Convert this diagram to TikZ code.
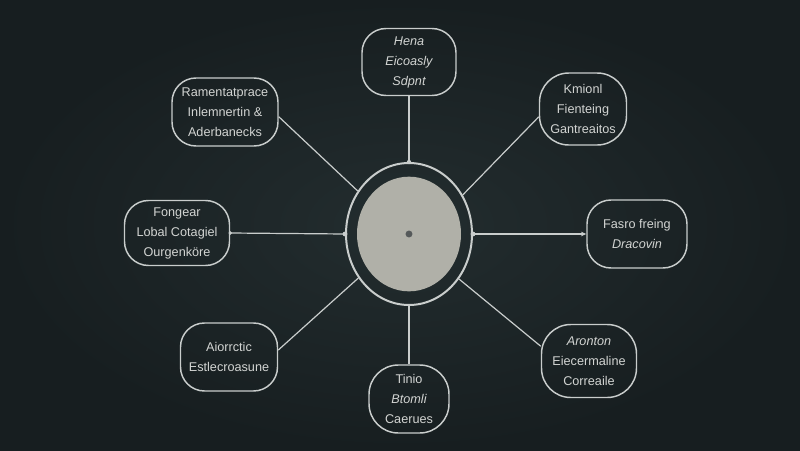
\documentclass[tikz,border=0pt]{standalone}
\usepackage{fontspec}
\setmainfont{Liberation Sans}
\usetikzlibrary{shapes.geometric,arrows.meta}
\definecolor{bgmid}{HTML}{232D2F}
\definecolor{bgedge}{HTML}{171E20}
\definecolor{chalk}{HTML}{C9CDCC}
\definecolor{chalktext}{HTML}{D2D4D2}
\definecolor{discfill}{HTML}{B0B0A8}
\definecolor{dotc}{HTML}{55595A}
\tikzset{
  bubble/.style={draw=chalk, line width=1.1pt, rounded corners=18pt, align=center,
    text=chalktext, inner sep=0pt, font=\fontsize{9.5}{15}\selectfont},
  link/.style={draw=chalk, line width=0.9pt},
  junction/.style={fill=chalk}
}
\begin{document}
\begin{tikzpicture}[x=0.75pt,y=-0.75pt]
\shade[inner color=bgmid, outer color=bgedge] (0,0) rectangle (800,450);
\useasboundingbox (0,0) rectangle (800,450);

% centre
\node[ellipse, draw=chalk, line width=1.5pt, minimum width=94.5pt, minimum height=106.5pt, inner sep=0pt] (ring) at (409,234) {};
\node[ellipse, fill=discfill, minimum width=78pt, minimum height=86pt, inner sep=0pt] (disc) at (409,234) {};
\fill[dotc] (disc.center) circle (2.6pt);

% boxes
\node[bubble, minimum width=70.5pt, minimum height=50.25pt] (top) at (409,62) {\itshape Hena\\\itshape Eicoasly\\\itshape Sdpnt};
\node[bubble, minimum width=79.5pt, minimum height=51pt] (tl) at (225,112) {Ramentatprace\\Inlemnertin \&\\Aderbanecks};
\node[bubble, minimum width=65.25pt, minimum height=54pt, rounded corners=22pt] (tr) at (583,109) {Kmionl\\Fienteing\\Gantreaitos};
\node[bubble, minimum width=78.75pt, minimum height=48.75pt] (l) at (177,233) {Fongear\\Lobal Cotagiel\\Ourgenköre};
\node[bubble, minimum width=75pt, minimum height=51pt] (r) at (637,234) {Fasro freing\\\itshape Dracovin};
\node[bubble, minimum width=72.75pt, minimum height=51pt] (bl) at (229,357) {Aiorrctic\\Estlecroasune};
\node[bubble, minimum width=71.25pt, minimum height=54.75pt, rounded corners=22pt] (br) at (589,361) {\itshape Aronton\\Eiecermaline\\Correaile};
\node[bubble, minimum width=60pt, minimum height=51pt, rounded corners=22pt] (b) at (409,399) {Tinio\\\itshape Btomli\\Caerues};

% connectors
\draw[link] (ring.north) -- (top.south);
\draw[link] (ring.south) -- (b.north);
\draw[link] (ring.west) -- (l.east);
\draw[link, -{Stealth[length=4pt,width=3.5pt]}] (ring.east) -- (r.west);
\draw[link] (ring.140) -- (tl.-5);
\draw[link] (ring.36) -- (tr.190);
\draw[link] (ring.221) -- (bl.8);
\draw[link] (ring.-42) -- (br.163);

% junction dots
\fill[junction] (ring.north) circle (1.6pt);
\fill[junction] (ring.west) circle (1.8pt);
\fill[junction] (ring.east) circle (1.8pt);
\fill[junction] (l.east) circle (1.4pt);
\end{tikzpicture}
\end{document}
